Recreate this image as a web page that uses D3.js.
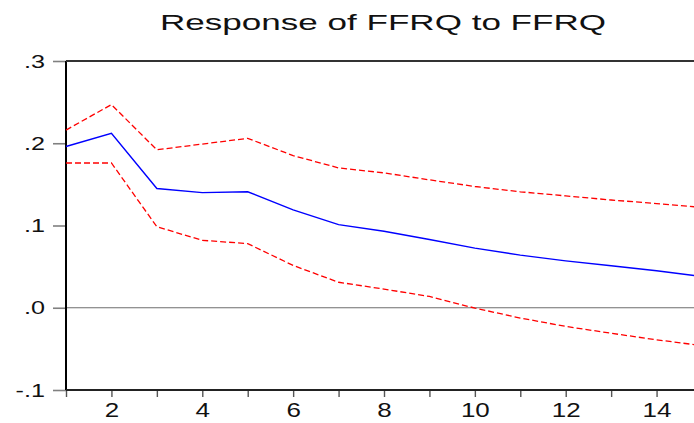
<!DOCTYPE html>
<html>
<head>
<meta charset="utf-8">
<script src="https://cdn.jsdelivr.net/npm/d3@7/dist/d3.min.js"></script>
<style>
  html, body { margin: 0; padding: 0; background: #fff; }
  svg { display: block; }
  text { font-family: Arial, "Liberation Sans", Helvetica, sans-serif; fill: #111; }
</style>
</head>
<body>
<svg id="chart" width="694" height="423"></svg>
<script>
// Impulse response periods
const periods = [1, 2, 3, 4, 5, 6, 7, 8, 9, 10, 11, 12, 13, 14, 15];
// Point response of FFRQ to a FFRQ shock
const response = [0.196, 0.212, 0.145, 0.140, 0.141, 0.119, 0.101, 0.093, 0.083, 0.0725, 0.064, 0.057, 0.051, 0.045, 0.038];
// Upper and lower +/- 2 S.E. bands
const upperBand = [0.216, 0.247, 0.192, 0.199, 0.206, 0.185, 0.170, 0.164, 0.1555, 0.1474, 0.141, 0.136, 0.131, 0.1267, 0.122];
const lowerBand = [0.176, 0.176, 0.0985, 0.082, 0.078, 0.0514, 0.031, 0.0227, 0.0137, -0.0004, -0.0125, -0.0227, -0.031, -0.039, -0.046];
// Axis tick values and labels
const yTicks = [-0.1, 0.0, 0.1, 0.2, 0.3];
const yTickLabels = ["-.1", ".0", ".1", ".2", ".3"];
const xLabelTicks = [2, 4, 6, 8, 10, 12, 14];
const title = "Response of FFRQ to FFRQ";

const svg = d3.select("#chart");
const plotLeft = 66, plotRight = 702, plotTop = 61, plotBottom = 390;

const x = d3.scaleLinear().domain([1, 15]).range([plotLeft, plotRight]);
const y = d3.scaleLinear().domain([-0.1, 0.3]).range([plotBottom, plotTop]);

// Title
svg.append("text")
  .attr("x", 160).attr("y", 30)
  .attr("font-size", 22)
  .attr("textLength", 446)
  .attr("lengthAdjust", "spacingAndGlyphs")
  .text(title);

// Zero reference line
svg.append("line")
  .attr("x1", plotLeft).attr("x2", plotRight)
  .attr("y1", y(0)).attr("y2", y(0))
  .attr("stroke", "#6e6e6e").attr("stroke-width", 1);

// Y axis ticks and labels
const yAxis = svg.append("g").attr("transform", `translate(${plotLeft},0)`)
  .call(d3.axisLeft(y).tickValues(yTicks).tickSize(13).tickFormat((d, i) => yTickLabels[i]));
yAxis.select(".domain").remove();
yAxis.selectAll(".tick line").attr("stroke", "#808080").attr("stroke-width", 1.6);
yAxis.selectAll(".tick text")
  .attr("x", 0).attr("dy", null)
  .attr("font-size", 18)
  .attr("text-anchor", "end")
  .attr("dominant-baseline", "central")
  .attr("transform", "translate(-21,0) scale(1.4,1)");

// X axis: tick at every period, labels on even periods
const xAxis = svg.append("g").attr("transform", `translate(0,${plotBottom})`)
  .call(d3.axisBottom(x).tickValues(periods).tickSize(7)
    .tickFormat(d => xLabelTicks.includes(d) ? d : ""));
xAxis.select(".domain").remove();
xAxis.selectAll(".tick line").attr("stroke", "#555").attr("stroke-width", 1.4);
xAxis.selectAll(".tick text")
  .attr("y", 0).attr("dy", null)
  .attr("font-size", 20)
  .attr("text-anchor", "middle")
  .attr("transform", "translate(0,27) scale(1.3,1)");

// Frame: left, top, bottom
svg.append("line").attr("x1", plotLeft).attr("x2", plotLeft).attr("y1", plotTop).attr("y2", plotBottom)
  .attr("stroke", "#000").attr("stroke-width", 2);
svg.append("line").attr("x1", plotLeft).attr("x2", plotRight).attr("y1", plotTop).attr("y2", plotTop)
  .attr("stroke", "#333").attr("stroke-width", 2);
svg.append("line").attr("x1", plotLeft).attr("x2", plotRight).attr("y1", plotBottom).attr("y2", plotBottom)
  .attr("stroke", "#222").attr("stroke-width", 2);

const line = d3.line().x((d, i) => x(periods[i])).y(d => y(d));

// Confidence bands
[upperBand, lowerBand].forEach(band => {
  svg.append("path").datum(band)
    .attr("d", line)
    .attr("fill", "none")
    .attr("stroke", "#ff0000")
    .attr("stroke-width", 1.3)
    .attr("stroke-dasharray", "6,3");
});

// Response
svg.append("path").datum(response)
  .attr("d", line)
  .attr("fill", "none")
  .attr("stroke", "#0000ff")
  .attr("stroke-width", 1.4);
</script>
</body>
</html>
